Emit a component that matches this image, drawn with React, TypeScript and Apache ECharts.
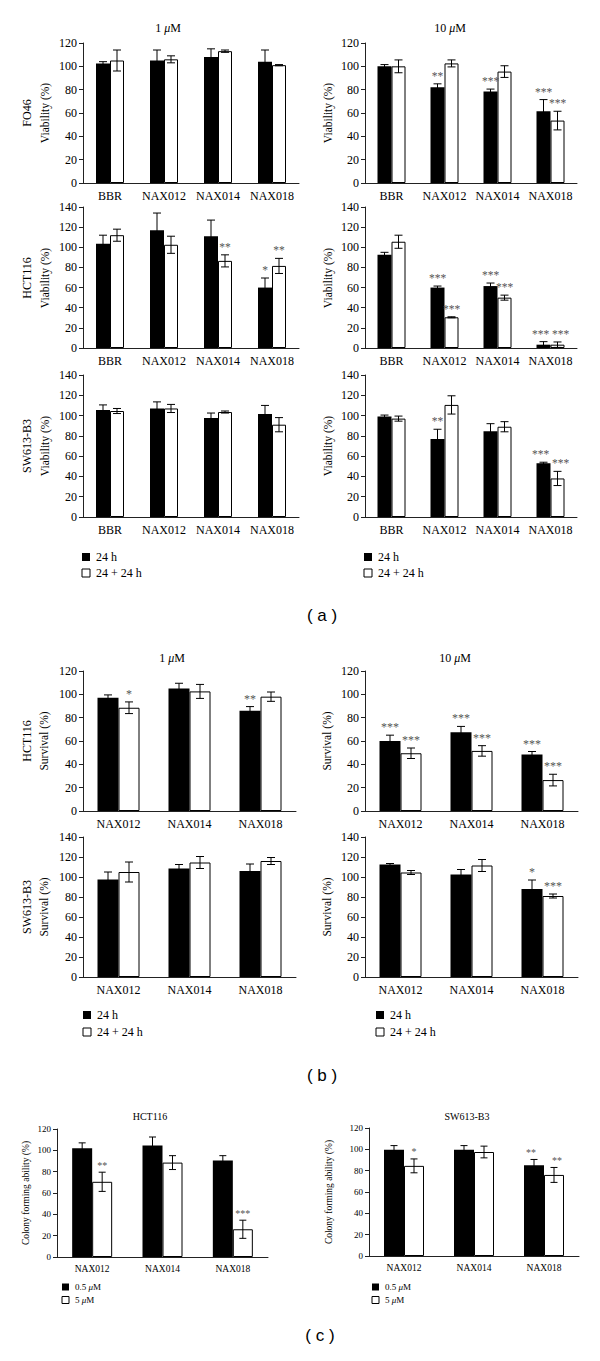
import React, { useEffect, useRef } from "react";
import * as echarts from "echarts";

// ---------- DATA ----------
const cats4 = ["BBR", "NAX012", "NAX014", "NAX018"];
const cats3 = ["NAX012", "NAX014", "NAX018"];

// (a) FO46, 1 µM
const a1Black = [102.5, 105, 108, 104];
const a1BlackErr = [1.5, 9, 7, 10];
const a1White = [105, 106, 113, 101];
const a1WhiteErr = [9, 3, 1, 0.5];
const a1BlackSig = ["", "", "", ""];
const a1WhiteSig = ["", "", "", ""];
// (a) FO46, 10 µM
const a2Black = [100, 82, 78.5, 61.5];
const a2BlackErr = [1.5, 3, 2, 10];
const a2White = [100, 102.5, 95.5, 53.5];
const a2WhiteErr = [5.5, 3, 5, 8];
const a2BlackSig = ["", "**", "***", "***"];
const a2WhiteSig = ["", "", "", "***"];
// (a) HCT116, 1 µM
const a3Black = [103.5, 117, 111, 60];
const a3BlackErr = [8.5, 17, 16, 9.5];
const a3White = [112, 102.5, 86.5, 81.5];
const a3WhiteErr = [6, 8.5, 6, 7.5];
const a3BlackSig = ["", "", "", "*"];
const a3WhiteSig = ["", "", "**", "**"];
// (a) HCT116, 10 µM
const a4Black = [92.5, 60, 61.5, 3.3];
const a4BlackErr = [2.5, 1.5, 3, 3];
const a4White = [105.5, 30.5, 50, 3.3];
const a4WhiteErr = [6.5, 0.5, 2.5, 2.7];
const a4BlackSig = ["", "***", "***", "***"];
const a4WhiteSig = ["", "***", "***", "***"];
// (a) SW613-B3, 1 µM
const a5Black = [105.5, 107, 97.5, 101.5];
const a5BlackErr = [5, 6.5, 5, 8.5];
const a5White = [104.5, 107, 103.5, 91];
const a5WhiteErr = [2.5, 4, 1, 7];
const a5BlackSig = ["", "", "", ""];
const a5WhiteSig = ["", "", "", ""];
// (a) SW613-B3, 10 µM
const a6Black = [99, 77, 84.5, 53];
const a6BlackErr = [1.5, 9.5, 7.5, 1];
const a6White = [97, 110.5, 89, 38];
const a6WhiteErr = [2.5, 9, 5, 7];
const a6BlackSig = ["", "**", "", "***"];
const a6WhiteSig = ["", "", "", "***"];

// (b) HCT116 survival, 1 µM
const b1Black = [97, 105, 86];
const b1BlackErr = [2.5, 4.5, 3.5];
const b1White = [88.5, 102.5, 98];
const b1WhiteErr = [5, 6, 4];
const b1BlackSig = ["", "", "**"];
const b1WhiteSig = ["*", "", ""];
// (b) HCT116 survival, 10 µM
const b2Black = [60, 67.5, 48.5];
const b2BlackErr = [5, 5, 2.5];
const b2White = [49.5, 51.5, 26.5];
const b2WhiteErr = [4.5, 4.5, 5];
const b2BlackSig = ["***", "***", "***"];
const b2WhiteSig = ["***", "***", "***"];
// (b) SW613-B3 survival, 1 µM
const b3Black = [97.5, 108.5, 106];
const b3BlackErr = [7.5, 4, 7];
const b3White = [105, 114.5, 116];
const b3WhiteErr = [10, 6, 3.5];
const b3BlackSig = ["", "", ""];
const b3WhiteSig = ["", "", ""];
// (b) SW613-B3 survival, 10 µM
const b4Black = [112.5, 102.5, 88];
const b4BlackErr = [1, 5, 9];
const b4White = [104.5, 111.5, 81];
const b4WhiteErr = [2, 6, 2];
const b4BlackSig = ["", "", "*"];
const b4WhiteSig = ["", "", "***"];

// (c) colony forming ability
const c1Black = [102, 104.5, 90.5];
const c1BlackErr = [5, 8, 4.5];
const c1White = [70.5, 88.5, 26];
const c1WhiteErr = [9, 6.5, 8.5];
const c1BlackSig = ["", "", ""];
const c1WhiteSig = ["**", "", "***"];
const c2Black = [99.5, 99.5, 85];
const c2BlackErr = [4, 4, 5.5];
const c2White = [84.5, 97.5, 76];
const c2WhiteErr = [6.5, 5.5, 7];
const c2BlackSig = ["", "", "**"];
const c2WhiteSig = ["*", "", "**"];

const legendAB = ["24 h", "24 + 24 h"];
const legendC = ["0.5 μM", "5 μM"];

// ---------- LAYOUT ----------
const SERIF = "Liberation Serif";
const SANS = "Liberation Sans";

type Panel = {
  left: number; top: number; width: number; height: number; max: number;
  cats: string[]; bw: number; cap: number; fs: number; yfs: number; sfs: number;
  black: number[]; blackErr: number[]; white: number[]; whiteErr: number[];
  blackSig: string[]; whiteSig: string[]; names: string[];
};

const A = { bw: 14, cap: 8, fs: 12, yfs: 12, sfs: 11.5 };
const B = { bw: 21, cap: 8, fs: 12, yfs: 12, sfs: 12 };
const C = { bw: 20, cap: 7, fs: 9.5, yfs: 9, sfs: 10 };

const panels: Panel[] = [
  { left: 83, top: 43, width: 216, height: 140, max: 120, cats: cats4, ...A, black: a1Black, blackErr: a1BlackErr, white: a1White, whiteErr: a1WhiteErr, blackSig: a1BlackSig, whiteSig: a1WhiteSig, names: legendAB },
  { left: 365, top: 43, width: 212, height: 140, max: 120, cats: cats4, ...A, black: a2Black, blackErr: a2BlackErr, white: a2White, whiteErr: a2WhiteErr, blackSig: a2BlackSig, whiteSig: a2WhiteSig, names: legendAB },
  { left: 83, top: 207, width: 216, height: 141, max: 140, cats: cats4, ...A, black: a3Black, blackErr: a3BlackErr, white: a3White, whiteErr: a3WhiteErr, blackSig: a3BlackSig, whiteSig: a3WhiteSig, names: legendAB },
  { left: 365, top: 207, width: 212, height: 141, max: 140, cats: cats4, ...A, black: a4Black, blackErr: a4BlackErr, white: a4White, whiteErr: a4WhiteErr, blackSig: a4BlackSig, whiteSig: a4WhiteSig, names: legendAB },
  { left: 83, top: 375, width: 216, height: 142, max: 140, cats: cats4, ...A, black: a5Black, blackErr: a5BlackErr, white: a5White, whiteErr: a5WhiteErr, blackSig: a5BlackSig, whiteSig: a5WhiteSig, names: legendAB },
  { left: 365, top: 375, width: 212, height: 142, max: 140, cats: cats4, ...A, black: a6Black, blackErr: a6BlackErr, white: a6White, whiteErr: a6WhiteErr, blackSig: a6BlackSig, whiteSig: a6WhiteSig, names: legendAB },
  { left: 83, top: 671, width: 213, height: 140, max: 120, cats: cats3, ...B, black: b1Black, blackErr: b1BlackErr, white: b1White, whiteErr: b1WhiteErr, blackSig: b1BlackSig, whiteSig: b1WhiteSig, names: legendAB },
  { left: 365, top: 671, width: 213, height: 140, max: 120, cats: cats3, ...B, black: b2Black, blackErr: b2BlackErr, white: b2White, whiteErr: b2WhiteErr, blackSig: b2BlackSig, whiteSig: b2WhiteSig, names: legendAB },
  { left: 83, top: 837, width: 213, height: 140, max: 140, cats: cats3, ...B, black: b3Black, blackErr: b3BlackErr, white: b3White, whiteErr: b3WhiteErr, blackSig: b3BlackSig, whiteSig: b3WhiteSig, names: legendAB },
  { left: 365, top: 837, width: 213, height: 140, max: 140, cats: cats3, ...B, black: b4Black, blackErr: b4BlackErr, white: b4White, whiteErr: b4WhiteErr, blackSig: b4BlackSig, whiteSig: b4WhiteSig, names: legendAB },
  { left: 57, top: 1129, width: 211, height: 128, max: 120, cats: cats3, ...C, black: c1Black, blackErr: c1BlackErr, white: c1White, whiteErr: c1WhiteErr, blackSig: c1BlackSig, whiteSig: c1WhiteSig, names: legendC },
  { left: 369, top: 1128, width: 210, height: 128, max: 120, cats: cats3, ...C, black: c2Black, blackErr: c2BlackErr, white: c2White, whiteErr: c2WhiteErr, blackSig: c2BlackSig, whiteSig: c2WhiteSig, names: legendC },
];

function errSeries(gi: number, p: Panel, side: number) {
  const vals = side < 0 ? p.black : p.white;
  const errs = side < 0 ? p.blackErr : p.whiteErr;
  const sigs = side < 0 ? p.blackSig : p.whiteSig;
  const oVals = side < 0 ? p.white : p.black;
  const oErrs = side < 0 ? p.whiteErr : p.blackErr;
  const oSigs = side < 0 ? p.whiteSig : p.blackSig;
  return {
    type: "custom",
    xAxisIndex: gi,
    yAxisIndex: gi,
    silent: true,
    z: 5,
    clip: false,
    itemStyle: { color: "#555" },
    data: vals.map((v, i) => [i, v, errs[i]]),
    renderItem: (params: any, api: any) => {
      const i = api.value(0);
      const v = api.value(1);
      const e = api.value(2);
      const c = api.coord([i, v]);
      const x = c[0] + (side * p.bw) / 2;
      const yT = api.coord([i, v + e])[1];
      const yB = api.coord([i, Math.max(v - e, 0)])[1];
      const h = p.cap / 2;
      const st = { stroke: "#000", lineWidth: 1, fill: null };
      const children: any[] = [
        { type: "line", shape: { x1: x, y1: yT, x2: x, y2: yB }, style: st },
        { type: "line", shape: { x1: x - h, y1: yT, x2: x + h, y2: yT }, style: st },
        { type: "line", shape: { x1: x - h, y1: yB, x2: x + h, y2: yB }, style: st },
      ];
      const s = sigs[i];
      if (s) {
        // nudge apart when the neighbouring bar carries stars at about the same height
        const oT = api.coord([i, oVals[i] + oErrs[i]])[1];
        const clash = oSigs[i] && Math.abs(oT - yT) < p.sfs;
        const dx = clash ? side * 3 : 0;
        children.push({
          type: "text",
          style: {
            text: s, x: x + dx, y: yT - 2, align: "center", verticalAlign: "bottom",
            fontSize: p.sfs, fontFamily: SERIF, fill: "#555",
          },
        });
      }
      return { type: "group", children };
    },
  };
}

function tx(text: string, x: number, y: number, fs: number, family = SERIF) {
  return {
    type: "text", x, y,
    style: { text, fontSize: fs, fontFamily: family, fill: "#000", align: "center", verticalAlign: "middle" },
  };
}
function ytx(text: string, x: number, y: number, fs: number) {
  return {
    type: "text", x, y, rotation: Math.PI / 2,
    style: { text, fontSize: fs, fontFamily: SERIF, fill: "#000", align: "center", verticalAlign: "middle" },
  };
}
function titleMu(pre: string, x: number, y: number, fs: number) {
  return {
    type: "text", x, y,
    style: {
      text: pre + " {i|μ}M", fontSize: fs, fontFamily: SERIF, fill: "#000", align: "center", verticalAlign: "middle",
      rich: { i: { fontStyle: "italic", fontSize: fs, fontFamily: SERIF, fill: "#000" } },
    },
  };
}
function legendBlock(x: number, y: number, names: string[], fs: number, size: number, gap: number, rich = false) {
  const out: any[] = [];
  names.forEach((n, k) => {
    const yy = y + k * gap;
    out.push({
      type: "rect", shape: { x: x, y: yy - size / 2, width: size, height: size },
      style: k === 0 ? { fill: "#000" } : { fill: "#fff", stroke: "#000", lineWidth: 1 },
    });
    const t: any = {
      type: "text", x: x + size + 6, y: yy,
      style: { text: n, fontSize: fs, fontFamily: SERIF, fill: "#000", align: "left", verticalAlign: "middle" },
    };
    if (rich) {
      t.style.text = n.replace("μ", "{i|μ}");
      t.style.rich = { i: { fontStyle: "italic", fontSize: fs, fontFamily: SERIF, fill: "#000" } };
    }
    out.push(t);
  });
  return out;
}

export default function App() {
  const ref = useRef<HTMLDivElement>(null);
  useEffect(() => {
    if (!ref.current) return;
    const chart = echarts.init(ref.current, undefined, { renderer: "svg" });
    const grid: any[] = [];
    const xAxis: any[] = [];
    const yAxis: any[] = [];
    const series: any[] = [];
    panels.forEach((p, gi) => {
      grid.push({ left: p.left, top: p.top, width: p.width, height: p.height, containLabel: false });
      xAxis.push({
        type: "category", gridIndex: gi, data: p.cats,
        axisLine: { show: true, lineStyle: { color: "#222", width: 1 } },
        axisTick: { show: false },
        axisLabel: { color: "#000", fontFamily: SERIF, fontSize: p.fs, margin: 7, interval: 0 },
      });
      yAxis.push({
        type: "value", gridIndex: gi, min: 0, max: p.max, interval: 20,
        axisLine: { show: true, lineStyle: { color: "#222", width: 1 } },
        axisTick: { show: true, length: 4, lineStyle: { color: "#222" } },
        splitLine: { show: false },
        axisLabel: { color: "#000", fontFamily: SERIF, fontSize: p.yfs, margin: 6 },
      });
      series.push({
        type: "bar", name: p.names[0], xAxisIndex: gi, yAxisIndex: gi, data: p.black,
        barWidth: p.bw, barGap: "0%", itemStyle: { color: "#000" }, silent: true,
      });
      series.push({
        type: "bar", name: p.names[1], xAxisIndex: gi, yAxisIndex: gi, data: p.white,
        barWidth: p.bw, barGap: "0%", itemStyle: { color: "#fff", borderColor: "#000", borderWidth: 1 }, silent: true,
      });
      series.push(errSeries(gi, p, -1));
      series.push(errSeries(gi, p, 1));
    });

    const graphic: any[] = [
      titleMu("1", 168, 28, 12),
      titleMu("10", 450, 28, 12),
      ytx("FO46", 27, 113, 12), ytx("Viability (%)", 45, 113, 11.5),
      ytx("Viability (%)", 328, 113, 11.5),
      ytx("HCT116", 27, 278, 12), ytx("Viability (%)", 45, 278, 11.5),
      ytx("Viability (%)", 328, 278, 11.5),
      ytx("SW613-B3", 27, 446, 12), ytx("Viability (%)", 45, 446, 11.5),
      ytx("Viability (%)", 328, 446, 11.5),
      ...legendBlock(82, 557, legendAB, 12, 8, 16),
      ...legendBlock(364, 557, legendAB, 12, 8, 16),
      tx("( a )", 322, 615, 17, SANS),
      titleMu("1", 172, 658, 12),
      titleMu("10", 455, 658, 12),
      ytx("HCT116", 27, 741, 12), ytx("Survival (%)", 44, 741, 11.5),
      ytx("Survival (%)", 327, 741, 11.5),
      ytx("SW613-B3", 27, 907, 12), ytx("Survival (%)", 44, 907, 11.5),
      ytx("Survival (%)", 327, 907, 11.5),
      ...legendBlock(83, 1015, legendAB, 12, 8, 17),
      ...legendBlock(376, 1015, legendAB, 12, 8, 17),
      tx("( b )", 322, 1075, 17, SANS),
      tx("HCT116", 150, 1116, 10),
      tx("SW613-B3", 467, 1116, 10),
      ytx("Colony forming ability (%)", 26, 1193, 9.5),
      ytx("Colony forming ability (%)", 329, 1192, 9.5),
      ...legendBlock(62, 1287, legendC, 9, 7, 13, true),
      ...legendBlock(372, 1287, legendC, 9, 7, 13, true),
      tx("( c )", 320, 1335, 17, SANS),
    ];

    chart.setOption({
      animation: false,
      backgroundColor: "#fff",
      grid, xAxis, yAxis, series, graphic,
    });
    return () => chart.dispose();
  }, []);
  return (
    <div
      ref={ref}
      style={{ position: "absolute", left: 0, top: 0, width: 600, height: 1361 }}
    />
  );
}
